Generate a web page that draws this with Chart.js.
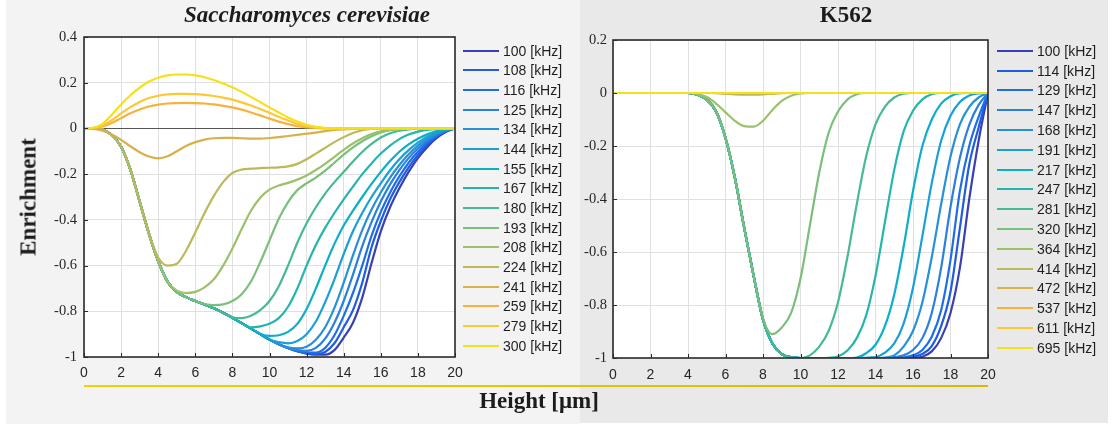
<!DOCTYPE html>
<html>
<head>
<meta charset="utf-8">
<script src="https://cdn.jsdelivr.net/npm/chart.js@4.4.1/dist/chart.umd.min.js"></script>
<style>
  html, body { margin: 0; padding: 0; background: #fff; }
  body { width: 1114px; height: 426px; position: relative; overflow: hidden; font-family: "Liberation Sans", Arial, sans-serif; }
  .panel { position: absolute; top: 0; }
  #leftPanel { left: 6px; width: 574px; height: 424px; background: #f3f3f3; }
  #rightPanel { left: 580px; width: 528px; height: 423px; background: #e9e9e9; }
  canvas { position: absolute; top: 0; }
  #yeastCanvas { left: 0; }
  #k562Canvas { left: 580px; }
  .title { position: absolute; top: 3px; font-family: "Liberation Serif", "Times New Roman", serif; font-weight: bold; font-size: 23px; line-height: 23px; white-space: nowrap; color: #1c1c1c; transform: translateX(-50%); }
  #yeastTitle { left: 307px; font-style: italic; }
  #k562Title { left: 846px; }
  #xTitle { left: 539px; top: 389px; }
  #yTitle { left: 28px; top: 197px; transform: translate(-50%, -50%) rotate(-90deg); }
  #rule { position: absolute; left: 84px; top: 385px; width: 904px; height: 1.5px; background: linear-gradient(to right, #f0d200, #d9b800); }
  .legend { position: absolute; top: 41px; font-size: 14px; color: #1e1e1e; }
  #yeastLegend { left: 463px; }
  #k562Legend { left: 997px; }
  .legend .item { height: 19.7px; display: flex; align-items: center; white-space: nowrap; }
  .legend .swatch { display: inline-block; width: 36px; height: 2px; margin-right: 4px; }
</style>
</head>
<body>
<div class="panel" id="leftPanel"></div>
<div class="panel" id="rightPanel"></div>
<canvas id="yeastCanvas" width="475" height="400"></canvas>
<canvas id="k562Canvas" width="428" height="400"></canvas>
<div class="title" id="yeastTitle">Saccharomyces cerevisiae</div>
<div class="title" id="k562Title">K562</div>
<div class="title" id="xTitle">Height [μm]</div>
<div class="title" id="yTitle">Enrichment</div>
<div id="rule"></div>
<div class="legend" id="yeastLegend"></div>
<div class="legend" id="k562Legend"></div>
<script>
// sample heights shared by every curve (µm)
const heightsUm = [0, 0.5, 1, 1.5, 2, 2.5, 3, 3.5, 4, 4.5,
  5, 5.5, 6, 6.5, 7, 7.5, 8, 8.5, 9, 9.5,
  10, 10.5, 11, 11.5, 12, 12.5, 13, 13.5, 14, 14.5,
  15, 15.5, 16, 16.5, 17, 17.5, 18, 18.5, 19, 19.5, 20];

const yeastKHz = [100, 108, 116, 125, 134, 144, 155, 167, 180, 193, 208, 224, 241, 259, 279, 300];
const k562KHz = [100, 114, 129, 147, 168, 191, 217, 247, 281, 320, 364, 414, 472, 537, 611, 695];

const lineColors = ['#3b3fb6', '#1f5be3', '#1f6ee8', '#2a80dc', '#2690d8', '#19a0d6', '#0cafc8', '#24b5ae',
  '#46ba93', '#7abf7b', '#9dc06a', '#bcb95b', '#d9b14b', '#f8b13e', '#fcc834', '#f6df1b'];

// Saccharomyces cerevisiae enrichment, one array per frequency
const yeast100 = [0, 0, -0.005, -0.03, -0.08, -0.18, -0.32, -0.46, -0.58, -0.67,
  -0.715, -0.738, -0.755, -0.77, -0.787, -0.806, -0.828, -0.852, -0.876, -0.9,
  -0.924, -0.944, -0.961, -0.975, -0.985, -0.99, -0.99, -0.97, -0.915, -0.85,
  -0.74, -0.59, -0.45, -0.345, -0.262, -0.19, -0.13, -0.082, -0.043, -0.016, 0];
const yeast108 = [0, 0, -0.005, -0.03, -0.08, -0.18, -0.32, -0.46, -0.58, -0.67,
  -0.715, -0.738, -0.755, -0.77, -0.787, -0.806, -0.828, -0.852, -0.876, -0.9,
  -0.924, -0.944, -0.961, -0.975, -0.984, -0.988, -0.978, -0.94, -0.87, -0.795,
  -0.675, -0.52, -0.405, -0.31, -0.235, -0.17, -0.116, -0.072, -0.038, -0.014, 0];
const yeast116 = [0, 0, -0.005, -0.03, -0.08, -0.18, -0.32, -0.46, -0.58, -0.67,
  -0.715, -0.738, -0.755, -0.77, -0.787, -0.806, -0.828, -0.852, -0.876, -0.9,
  -0.924, -0.944, -0.961, -0.975, -0.98, -0.981, -0.96, -0.905, -0.82, -0.72,
  -0.6, -0.47, -0.365, -0.28, -0.21, -0.15, -0.102, -0.063, -0.033, -0.012, 0];
const yeast125 = [0, 0, -0.005, -0.03, -0.08, -0.18, -0.32, -0.46, -0.58, -0.67,
  -0.715, -0.738, -0.755, -0.77, -0.787, -0.806, -0.828, -0.852, -0.876, -0.9,
  -0.924, -0.944, -0.961, -0.97, -0.973, -0.96, -0.92, -0.85, -0.755, -0.64,
  -0.515, -0.41, -0.32, -0.245, -0.182, -0.13, -0.088, -0.054, -0.028, -0.01, 0];
const yeast134 = [0, 0, -0.005, -0.03, -0.08, -0.18, -0.32, -0.46, -0.58, -0.67,
  -0.715, -0.738, -0.755, -0.77, -0.787, -0.806, -0.828, -0.852, -0.876, -0.9,
  -0.924, -0.944, -0.958, -0.962, -0.955, -0.925, -0.87, -0.785, -0.675, -0.555,
  -0.445, -0.355, -0.28, -0.215, -0.16, -0.113, -0.075, -0.045, -0.023, -0.008, 0];
const yeast144 = [0, 0, -0.005, -0.03, -0.08, -0.18, -0.32, -0.46, -0.58, -0.67,
  -0.715, -0.738, -0.755, -0.77, -0.787, -0.806, -0.828, -0.852, -0.876, -0.9,
  -0.924, -0.935, -0.94, -0.93, -0.9, -0.845, -0.76, -0.66, -0.55, -0.45,
  -0.37, -0.3, -0.24, -0.183, -0.135, -0.095, -0.062, -0.036, -0.018, -0.006, 0];
const yeast155 = [0, 0, -0.005, -0.03, -0.08, -0.18, -0.32, -0.46, -0.58, -0.67,
  -0.715, -0.738, -0.755, -0.77, -0.787, -0.806, -0.828, -0.852, -0.876, -0.898,
  -0.908, -0.905, -0.89, -0.855, -0.79, -0.7, -0.6, -0.505, -0.425, -0.36,
  -0.3, -0.243, -0.19, -0.143, -0.102, -0.07, -0.045, -0.026, -0.012, -0.004, 0];
const yeast167 = [0, 0, -0.005, -0.03, -0.08, -0.18, -0.32, -0.46, -0.58, -0.67,
  -0.715, -0.738, -0.755, -0.77, -0.787, -0.806, -0.828, -0.852, -0.87, -0.866,
  -0.855, -0.83, -0.78, -0.7, -0.6, -0.51, -0.435, -0.37, -0.31, -0.255,
  -0.2, -0.153, -0.11, -0.075, -0.047, -0.027, -0.014, -0.006, -0.002, 0, 0];
const yeast180 = [0, 0, -0.005, -0.03, -0.08, -0.18, -0.32, -0.46, -0.58, -0.67,
  -0.715, -0.738, -0.755, -0.77, -0.787, -0.806, -0.826, -0.83, -0.82, -0.795,
  -0.755, -0.69, -0.6, -0.5, -0.415, -0.345, -0.285, -0.235, -0.19, -0.145,
  -0.103, -0.068, -0.04, -0.021, -0.01, -0.004, -0.001, 0, 0, 0, 0];
const yeast193 = [0, 0, -0.005, -0.03, -0.08, -0.18, -0.32, -0.46, -0.58, -0.67,
  -0.715, -0.738, -0.755, -0.768, -0.773, -0.77, -0.755, -0.725, -0.67, -0.585,
  -0.49, -0.395, -0.322, -0.27, -0.24, -0.215, -0.185, -0.15, -0.115, -0.083,
  -0.056, -0.034, -0.018, -0.008, -0.003, -0.001, 0, 0, 0, 0, 0];
const yeast208 = [0, 0, -0.005, -0.03, -0.08, -0.18, -0.32, -0.46, -0.58, -0.67,
  -0.71, -0.72, -0.715, -0.695, -0.66, -0.6, -0.525, -0.44, -0.36, -0.303,
  -0.268, -0.25, -0.238, -0.224, -0.206, -0.182, -0.155, -0.124, -0.094, -0.066,
  -0.043, -0.025, -0.013, -0.006, -0.002, 0, 0, 0, 0, 0, 0];
const yeast224 = [0, 0, -0.005, -0.03, -0.08, -0.18, -0.32, -0.46, -0.565, -0.6,
  -0.592, -0.535, -0.455, -0.37, -0.295, -0.235, -0.195, -0.18, -0.176, -0.174,
  -0.172, -0.17, -0.166, -0.155, -0.135, -0.11, -0.085, -0.06, -0.038, -0.02,
  -0.008, -0.002, 0, 0, 0, 0, 0, 0, 0, 0, 0];
const yeast241 = [0, -0.001, -0.01, -0.027, -0.05, -0.078, -0.104, -0.123, -0.131, -0.122,
  -0.1, -0.077, -0.06, -0.049, -0.043, -0.041, -0.041, -0.043, -0.045, -0.045,
  -0.042, -0.038, -0.033, -0.028, -0.023, -0.018, -0.012, -0.007, -0.004, -0.002,
  -0.001, 0, 0, 0, 0, 0, 0, 0, 0, 0, 0];
const yeast259 = [0, 0.001, 0.009, 0.024, 0.045, 0.066, 0.083, 0.096, 0.104, 0.109,
  0.111, 0.112, 0.111, 0.109, 0.105, 0.099, 0.092, 0.082, 0.07, 0.057,
  0.043, 0.03, 0.019, 0.01, 0.005, 0.002, 0, 0, 0, 0,
  0, 0, 0, 0, 0, 0, 0, 0, 0, 0, 0];
const yeast279 = [0, 0.002, 0.014, 0.036, 0.066, 0.093, 0.116, 0.133, 0.143, 0.149,
  0.151, 0.151, 0.15, 0.147, 0.142, 0.135, 0.126, 0.114, 0.1, 0.085,
  0.068, 0.051, 0.035, 0.021, 0.011, 0.005, 0.001, 0, 0, 0,
  0, 0, 0, 0, 0, 0, 0, 0, 0, 0, 0];
const yeast300 = [0, 0.003, 0.02, 0.06, 0.105, 0.145, 0.178, 0.205, 0.222, 0.232,
  0.236, 0.236, 0.232, 0.224, 0.212, 0.197, 0.18, 0.16, 0.138, 0.115,
  0.092, 0.07, 0.048, 0.03, 0.016, 0.007, 0.002, 0, 0, 0,
  0, 0, 0, 0, 0, 0, 0, 0, 0, 0, 0];

// K562 enrichment, one array per frequency
const k562_100 = [0, 0, 0, 0, 0, 0, 0, 0, 0, -0.006,
  -0.025, -0.07, -0.17, -0.32, -0.51, -0.69, -0.855, -0.945, -0.985, -0.997,
  -1, -1, -1, -1, -1, -1, -1, -1, -1, -1,
  -1, -1, -1, -0.995, -0.975, -0.925, -0.83, -0.66, -0.4, -0.18, 0];
const k562_114 = [0, 0, 0, 0, 0, 0, 0, 0, 0, -0.006,
  -0.025, -0.07, -0.17, -0.32, -0.51, -0.69, -0.855, -0.945, -0.985, -0.997,
  -1, -1, -1, -1, -1, -1, -1, -1, -1, -1,
  -1, -1, -0.996, -0.985, -0.955, -0.88, -0.75, -0.51, -0.27, -0.13, 0];
const k562_129 = [0, 0, 0, 0, 0, 0, 0, 0, 0, -0.006,
  -0.025, -0.07, -0.17, -0.32, -0.51, -0.69, -0.855, -0.945, -0.985, -0.997,
  -1, -1, -1, -1, -1, -1, -1, -1, -1, -1,
  -1, -0.998, -0.99, -0.97, -0.92, -0.82, -0.63, -0.37, -0.2, -0.09, 0];
const k562_147 = [0, 0, 0, 0, 0, 0, 0, 0, 0, -0.006,
  -0.025, -0.07, -0.17, -0.32, -0.51, -0.69, -0.855, -0.945, -0.985, -0.997,
  -1, -1, -1, -1, -1, -1, -1, -1, -1, -1,
  -0.997, -0.99, -0.97, -0.925, -0.83, -0.66, -0.43, -0.245, -0.12, -0.045, 0];
const k562_168 = [0, 0, 0, 0, 0, 0, 0, 0, 0, -0.006,
  -0.025, -0.07, -0.17, -0.32, -0.51, -0.69, -0.855, -0.945, -0.985, -0.997,
  -1, -1, -1, -1, -1, -1, -1, -1, -1, -0.998,
  -0.99, -0.957, -0.898, -0.79, -0.62, -0.42, -0.24, -0.118, -0.052, -0.017, 0];
const k562_191 = [0, 0, 0, 0, 0, 0, 0, 0, 0, -0.006,
  -0.025, -0.07, -0.17, -0.32, -0.51, -0.69, -0.855, -0.945, -0.985, -0.997,
  -1, -1, -1, -1, -1, -1, -1, -0.999, -0.997, -0.98,
  -0.945, -0.87, -0.735, -0.54, -0.34, -0.18, -0.086, -0.034, -0.009, -0.002, 0];
const k562_217 = [0, 0, 0, 0, 0, 0, 0, 0, 0, -0.006,
  -0.025, -0.07, -0.17, -0.32, -0.51, -0.69, -0.855, -0.945, -0.985, -0.997,
  -1, -1, -1, -1, -1, -1, -0.998, -0.982, -0.95, -0.88,
  -0.76, -0.58, -0.37, -0.2, -0.1, -0.04, -0.012, -0.001, 0, 0, 0];
const k562_247 = [0, 0, 0, 0, 0, 0, 0, 0, 0, -0.006,
  -0.025, -0.07, -0.17, -0.32, -0.51, -0.69, -0.855, -0.945, -0.985, -0.997,
  -1, -1, -1, -0.999, -0.994, -0.972, -0.925, -0.84, -0.69, -0.488,
  -0.29, -0.145, -0.067, -0.024, -0.005, 0, 0, 0, 0, 0, 0];
const k562_281 = [0, 0, 0, 0, 0, 0, 0, 0, 0, -0.006,
  -0.025, -0.07, -0.17, -0.32, -0.51, -0.69, -0.855, -0.945, -0.985, -0.997,
  -1, -0.99, -0.957, -0.898, -0.79, -0.62, -0.42, -0.24, -0.118, -0.052,
  -0.017, -0.003, 0, 0, 0, 0, 0, 0, 0, 0, 0];
const k562_320 = [0, 0, 0, 0, 0, 0, 0, 0, 0, -0.006,
  -0.025, -0.07, -0.17, -0.32, -0.51, -0.69, -0.85, -0.91, -0.885, -0.83,
  -0.7, -0.5, -0.3, -0.15, -0.07, -0.025, -0.005, 0, 0, 0,
  0, 0, 0, 0, 0, 0, 0, 0, 0, 0, 0];
const k562_364 = [0, 0, 0, 0, 0, 0, 0, 0, 0, -0.004,
  -0.015, -0.04, -0.073, -0.105, -0.125, -0.127, -0.105, -0.064, -0.03, -0.01,
  -0.002, 0, 0, 0, 0, 0, 0, 0, 0, 0,
  0, 0, 0, 0, 0, 0, 0, 0, 0, 0, 0];
const k562_414 = [0, 0, 0, 0, 0, 0, 0, 0, 0, 0,
  0, -0.001, -0.003, -0.005, -0.006, -0.006, -0.005, -0.003, -0.001, 0,
  0, 0, 0, 0, 0, 0, 0, 0, 0, 0,
  0, 0, 0, 0, 0, 0, 0, 0, 0, 0, 0];
const k562_472 = [0, 0, 0, 0, 0, 0, 0, 0, 0, 0,
  0, 0, 0, 0, 0, 0, 0, 0, 0, 0,
  0, 0, 0, 0, 0, 0, 0, 0, 0, 0,
  0, 0, 0, 0, 0, 0, 0, 0, 0, 0, 0];
const k562_537 = [0, 0, 0, 0, 0, 0, 0, 0, 0, 0,
  0, 0, 0, 0, 0, 0, 0, 0, 0, 0,
  0, 0, 0, 0, 0, 0, 0, 0, 0, 0,
  0, 0, 0, 0, 0, 0, 0, 0, 0, 0, 0];
const k562_611 = [0, 0, 0, 0, 0, 0, 0, 0, 0, 0,
  0, 0, 0, 0, 0, 0, 0, 0, 0, 0,
  0, 0, 0, 0, 0, 0, 0, 0, 0, 0,
  0, 0, 0, 0, 0, 0, 0, 0, 0, 0, 0];
const k562_695 = [0, 0, 0, 0, 0, 0, 0, 0, 0, 0,
  0, 0, 0, 0, 0, 0, 0, 0, 0, 0,
  0, 0, 0, 0, 0, 0, 0, 0, 0, 0,
  0, 0, 0, 0, 0, 0, 0, 0, 0, 0, 0];

const yeastSeries = [yeast100, yeast108, yeast116, yeast125, yeast134, yeast144, yeast155, yeast167,
  yeast180, yeast193, yeast208, yeast224, yeast241, yeast259, yeast279, yeast300];
const k562Series = [k562_100, k562_114, k562_129, k562_147, k562_168, k562_191, k562_217, k562_247,
  k562_281, k562_320, k562_364, k562_414, k562_472, k562_537, k562_611, k562_695];

// white plot area underneath, boxed frame with inward ticks on top
const axesBox = {
  id: 'axesBox',
  beforeDraw(chart) {
    const { ctx, chartArea: a } = chart;
    ctx.save();
    ctx.fillStyle = '#ffffff';
    ctx.fillRect(a.left, a.top, a.right - a.left, a.bottom - a.top);
    ctx.restore();
  },
  afterDraw(chart) {
    const { ctx, chartArea: a, scales } = chart;
    ctx.save();
    ctx.strokeStyle = '#2b2b2b';
    ctx.lineWidth = 1;
    ctx.beginPath();
    scales.x.ticks.forEach(t => {
      const px = Math.round(scales.x.getPixelForValue(t.value)) + 0.5;
      ctx.moveTo(px, a.bottom);
      ctx.lineTo(px, a.bottom - 4);
    });
    scales.y.ticks.forEach(t => {
      const py = Math.round(scales.y.getPixelForValue(t.value)) + 0.5;
      ctx.moveTo(a.left, py);
      ctx.lineTo(a.left + 4, py);
    });
    ctx.stroke();
    ctx.lineWidth = 1.6;
    ctx.strokeRect(a.left, a.top, a.right - a.left, a.bottom - a.top);
    ctx.restore();
  }
};

function makePanel(canvasId, series, kHz, yMax, box) {
  const datasets = series.map((vals, i) => ({
    label: kHz[i] + ' [kHz]',
    data: vals.map((v, j) => ({ x: heightsUm[j], y: v })),
    borderColor: lineColors[i],
    backgroundColor: lineColors[i],
    borderWidth: 2.2,
    pointRadius: 0,
    fill: false,
    cubicInterpolationMode: 'monotone',
    order: series.length - i   // higher frequencies drawn on top
  }));

  return new Chart(document.getElementById(canvasId), {
    type: 'line',
    data: { datasets },
    options: {
      responsive: false,
      animation: false,
      events: [],
      layout: { padding: { left: 0, top: box.top, right: box.right, bottom: 0 } },
      plugins: { legend: { display: false }, tooltip: { enabled: false } },
      scales: {
        x: {
          type: 'linear',
          min: 0,
          max: 20,
          afterFit: s => { s.height = box.xHeight; },
          border: { display: false },
          grid: { color: '#e0e0e0', drawTicks: false },
          ticks: {
            stepSize: 2,
            autoSkip: false,
            maxRotation: 0,
            padding: box.xPad,
            color: '#262626',
            font: { family: '"Liberation Sans", Arial, sans-serif', size: 14 }
          }
        },
        y: {
          type: 'linear',
          min: -1,
          max: yMax,
          afterFit: s => { s.width = box.yWidth; },
          border: { display: false },
          grid: {
            drawTicks: false,
            color: c => (c.tick && Math.abs(c.tick.value) < 1e-9) ? '#555555' : '#e0e0e0'
          },
          ticks: {
            stepSize: 0.2,
            padding: box.yPad,
            color: '#262626',
            font: { family: '"Liberation Serif", "Times New Roman", serif', size: 14.5 },
            callback: v => String(Math.round(v * 10) / 10)
          }
        }
      }
    },
    plugins: [axesBox]
  });
}

function buildLegend(elId, kHz, rowHeight) {
  const el = document.getElementById(elId);
  kHz.forEach((f, i) => {
    const row = document.createElement('div');
    row.className = 'item';
    row.style.height = rowHeight + 'px';
    const sw = document.createElement('span');
    sw.className = 'swatch';
    sw.style.background = lineColors[i];
    const label = document.createElement('span');
    label.textContent = f + ' [kHz]';
    row.appendChild(sw);
    row.appendChild(label);
    el.appendChild(row);
  });
}

makePanel('yeastCanvas', yeastSeries, yeastKHz, 0.4,
  { top: 37, right: 20, xHeight: 43, yWidth: 84, xPad: 8, yPad: 7 });
makePanel('k562Canvas', k562Series, k562KHz, 0.2,
  { top: 40, right: 20, xHeight: 42, yWidth: 33, xPad: 9, yPad: 6 });

buildLegend('yeastLegend', yeastKHz, 19.67);
buildLegend('k562Legend', k562KHz, 19.8);
</script>
</body>
</html>
